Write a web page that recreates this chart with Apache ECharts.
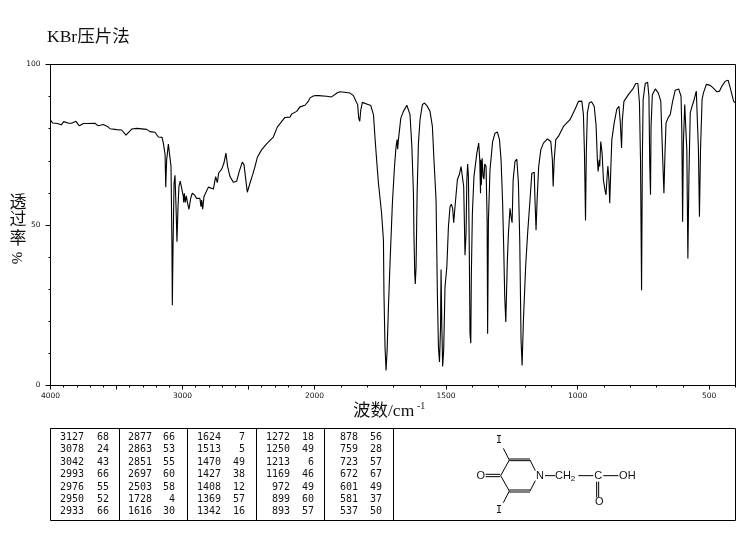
<!DOCTYPE html>
<html><head><meta charset="utf-8">
<style>html,body{margin:0;padding:0;background:#fff}#c{width:748px;height:539px}</style>
<script src="https://cdn.jsdelivr.net/npm/echarts@6/dist/echarts.min.js"></script>
</head><body><div id="c"></div>
<script>
// Spectrum above 2000 cm-1 (axis scale changes at 2000)
const wavenumberHigh = [3999,3984,3966,3948,3933,3918,3900,3885,3862,3840,3807,3782,3751,3721,3663,3638,3600,3569,3549,3499,3461,3428,3385,3347,3272,3246,3208,3183,3155,3145,3132,3127,3120,3107,3097,3087,3080,3077,3072,3064,3057,3049,3042,3034,3027,3017,3004,2994,2991,2986,2979,2971,2964,2951,2938,2926,2910,2893,2868,2860,2855,2847,2837,2822,2804,2766,2749,2736,2726,2703,2686,2671,2658,2640,2615,2590,2570,2547,2534,2519,2509,2499,2489,2469,2451,2433,2401,2363,2312,2282,2224,2186,2173,2135,2110,2072,2047,2034,2009,2000];
const transmittanceHigh = [82.6,81.8,81.7,81.6,81.7,81.2,82.2,82.5,81.7,81.7,82.3,80.9,81.6,81.6,81.7,80.9,81.3,80.7,80.0,79.7,79.6,78.0,79.9,80.1,79.8,79.1,78.9,77.4,77.3,75.5,71.9,61.8,70.3,75.2,75.2,68.2,43.2,25.0,42.2,63.0,65.5,55.7,44.8,55.7,62.0,63.7,63.5,58.9,57.0,59.9,57.0,59.1,57.3,54.9,58.3,59.9,59.4,58.3,58.3,55.7,57.8,54.9,58.9,59.4,61.8,61.2,65.1,63.2,66.2,67.4,69.3,72.4,68.2,65.1,63.3,63.6,66.7,69.6,68.8,63.6,60.2,60.4,63.0,65.6,68.2,71.1,73.4,75.3,77.4,80.5,83.5,83.6,84.6,85.4,86.8,87.3,88.5,89.6,90.2,90.3];
// Spectrum below 2000 cm-1
const wavenumberLow = [2000,1985,1954,1935,1913,1903,1865,1852,1842,1836,1832,1828,1824,1818,1802,1786,1776,1770,1763,1757,1751,1745,1738,1736,1732,1728,1724,1719,1713,1704,1696,1690,1686,1684,1681,1672,1662,1649,1642,1637,1630,1624,1622,1619,1617,1614,1610,1605,1599,1590,1582,1573,1561,1552,1546,1538,1533,1529,1525,1521,1519,1516,1513,1509,1504,1497,1491,1485,1480,1475,1471,1466,1457,1449,1443,1438,1433,1428,1424,1421,1418,1415,1412,1409,1406,1404,1400,1394,1383,1376,1372,1369,1368,1366,1363,1359,1356,1353,1348,1344,1342,1339,1333,1323,1314,1305,1297,1291,1285,1281,1277,1273,1271,1267,1263,1257,1253,1249,1245,1238,1231,1225,1220,1215,1211,1206,1197,1190,1181,1174,1165,1162,1158,1154,1148,1140,1130,1115,1102,1096,1093,1089,1083,1073,1054,1029,1009,997,984,978,974,970,967,963,956,947,937,930,925,922,918,916,912,907,902,895,892,888,885,881,878,874,870,861,851,843,838,833,830,824,807,790,779,771,765,761,757,754,751,743,734,729,726,723,721,716,705,693,684,677,672,668,664,655,648,639,629,616,607,604,601,598,593,587,585,581,577,572,565,557,549,544,541,537,533,527,522,511,496,481,471,461,452,439,428,420,407,400];
const transmittanceLow = [90.3,90.3,90.1,89.9,91.2,91.5,91.1,90.3,88.5,87.5,83.3,82.3,85.9,88.2,87.7,87.2,84.4,77.1,69.3,63.0,62.5,53.6,45.3,28.6,12.0,4.7,11.0,24.5,38.0,56.8,68.2,74.5,76.6,73.6,76.6,83.3,85.4,87.3,87.3,84.4,74.5,59.9,46.4,34.9,31.6,37.0,59.9,75.5,82.8,87.5,88.0,87.2,85.4,80.7,70.3,57.8,28.6,12.0,7.3,18.2,36.1,18.2,5.9,11.0,30.7,37.0,49.5,55.7,56.5,55.2,50.7,55.7,64.1,65.9,68.2,68.2,62.0,40.6,47.4,64.1,69.0,65.0,44.8,16.1,13.2,33.9,53.6,65.0,72.4,75.5,70.3,59.9,70.3,62.5,70.8,65.0,64.3,69.0,68.2,51.6,16.1,51.6,67.2,76.0,78.6,79.0,76.6,70.3,56.8,43.2,27.6,19.8,19.8,39.0,47.4,55.2,52.6,50.7,64.1,69.8,70.5,63.0,45.3,14.1,6.2,20.3,38.0,47.4,57.8,66.1,66.4,57.8,48.4,57.8,68.2,73.4,75.5,76.8,76.0,70.3,62.0,70.3,76.6,77.6,80.7,82.8,86.2,88.5,88.6,84.4,72.4,51.4,72.4,84.9,88.0,88.4,87.0,81.2,70.3,66.7,70.3,68.2,76.0,72.4,64.1,60.4,59.4,65.1,68.4,64.1,56.8,67.2,76.6,81.8,86.1,87.0,82.3,74.0,82.8,88.5,90.6,92.4,94.1,94.1,88.0,70.3,29.7,70.3,89.1,94.1,94.5,90.1,69.3,59.4,80.7,90.6,92.4,91.1,88.5,71.3,59.9,72.4,81.8,83.6,84.4,88.5,92.0,92.4,90.1,79.7,51.0,75.5,87.5,87.5,73.4,39.6,65.1,84.9,87.0,89.1,91.7,91.7,74.0,52.6,73.4,89.1,91.1,93.8,93.5,92.4,91.5,91.7,93.2,94.8,95.1,92.7,88.5,88.0];

const yMajor = [0,50,100];
const xMajorHigh = [4000,3500,3000,2500];
const xMajorLow = [2000,1500,1000,500];
const xLabelsHigh = [4000,3000];
const xLabelsLow = [2000,1500,1000,500];

// Peak table, one list per column
const peakWave = [
  ['3127','3078','3042','2993','2976','2950','2933'],
  ['2877','2863','2851','2697','2503','1728','1616'],
  ['1624','1513','1470','1427','1408','1369','1342'],
  ['1272','1250','1213','1169','972','899','893'],
  ['878','759','723','672','601','581','537']];
const peakT = [
  ['68','24','43','66','55','52','66'],
  ['66','53','55','60','58','4','30'],
  ['7','5','49','38','12','57','16'],
  ['18','49','6','46','49','60','57'],
  ['56','28','57','67','49','37','50']];

const title = 'KBr压片法';
const xName = '波数/cm';
const yNameChars = ['透','过','率'];

const pick = (w, t) => w.map((v, i) => [v, t[i]]);
const L = 50.5, T = 64.5, B = 385.5, R = 735.5, MID = 314.5;
const black = '#000';
const G = [];
const ln = (x1,y1,x2,y2,w) => G.push({type:'line',silent:true,shape:{x1,y1,x2,y2},style:{stroke:black,lineWidth:w||1}});
const tx = (x,y,text,font,align,extra) => G.push(Object.assign({type:'text',silent:true,x,y,style:{text,font,fill:'#111',align:align||'left',verticalAlign:'middle'}},extra||{}));

// plot frame
ln(L,T,R,T); ln(R,T,R,B);

// texts around the plot
const serif = '"Liberation Serif","Noto Sans CJK SC"';
tx(47,37,title,'17.5px '+serif);
tx(353,411.5,xName,'17.5px '+serif);
tx(417,406.5,'-1','10px '+serif);
const ys=[203.5,221,239.5];
yNameChars.forEach((c,i)=>tx(18,ys[i],c,'17px '+serif,'center'));
tx(18,258,'%','15px '+serif,'center',{rotation:Math.PI/2});

// table
const tTop=428.5,tBot=520.5,cols=[50.5,119.5,187.5,256.5,324.5,393.5,735.5];
ln(L,tTop,R,tTop); ln(L,tBot,R,tBot);
cols.forEach(x=>ln(x,tTop,x,tBot));
const waveRight=[84,152,221,290,358], tRight=[109,175,245,314,382];
const mono='10px "DejaVu Sans Mono"';
peakWave.forEach((col,c)=>col.forEach((v,r)=>{
  const y=437.5+r*12.37;
  tx(waveRight[c],y,v,mono,'right');
  tx(tRight[c],y,peakT[c][r],mono,'right');
}));

// structure drawing (px = 390 + cx/3, py = 420 + cy/3 from the reference)
const sx=c=>390+c/3, sy=c=>420+c/3;
const sl=(a,b,c,d)=>ln(sx(a),sy(b),sx(c),sy(d));
const bonds=[[287,163,330,163],[287,170,330,170],[332,167,358,120],[358,117,420,117],[358,122,420,122],[420,120,436,152],[436,182,420,213],[420,210,358,210],[420,216,358,216],[358,213,332,167],[340,85,358,120],[340,248,358,213],[465,167,495,167],[565,167,610,167],[640,167,685,167],[620,185,620,232],[626,185,626,232]];
bonds.forEach(b=>sl(...b));
const atom='11px "Liberation Sans"';
[[272,168,'O'],[450,168,'N'],[625,168,'C'],[712,168,'OH'],[628,245,'O'],[528,168,'CH']].forEach(a=>tx(sx(a[0])-(a[2]==='CH'?3:0),sy(a[1]),a[2],atom,'center'));
tx(sx(549),sy(176),'2','8px "Liberation Sans"','center');
tx(sx(327),sy(62),'I','10px "DejaVu Sans Mono"','center');
tx(sx(327),sy(270),'I','10px "DejaVu Sans Mono"','center');

const plain=v=>String(v);
const lab={show:true,fontFamily:'"DejaVu Sans"',fontSize:7.5,color:'#111',margin:7,formatter:plain};
const axLine={show:true,lineStyle:{color:black,width:1}};
const xBase=(gi,min,max)=>({type:'value',gridIndex:gi,min,max,inverse:true,position:'bottom',splitLine:{show:false},axisLine:axLine});

const option={
  animation:false,
  backgroundColor:'#fff',
  grid:[
    {left:L,top:T,width:MID-L,height:B-T},
    {left:MID,top:T,width:R-MID,height:B-T}
  ],
  xAxis:[
    Object.assign(xBase(0,2000,4000),{interval:100,axisTick:{show:true,length:2,lineStyle:{color:black}},axisLabel:{show:false}}),
    Object.assign(xBase(0,2000,4000),{interval:500,axisTick:{show:true,length:4,customValues:xMajorHigh,lineStyle:{color:black}},axisLabel:Object.assign({customValues:xLabelsHigh},lab)}),
    Object.assign(xBase(1,400,2000),{interval:100,axisTick:{show:true,length:2,lineStyle:{color:black}},axisLabel:{show:false}}),
    Object.assign(xBase(1,400,2000),{interval:100,axisTick:{show:true,length:4,customValues:xMajorLow,lineStyle:{color:black}},axisLabel:Object.assign({customValues:xLabelsLow},lab)})
  ],
  yAxis:[
    {type:'value',gridIndex:0,position:'left',min:0,max:100,interval:10,splitLine:{show:false},axisLine:axLine,
     axisTick:{show:true,length:2,lineStyle:{color:black}},axisLabel:{show:false}},
    {type:'value',gridIndex:0,position:'left',min:0,max:100,interval:50,splitLine:{show:false},axisLine:axLine,
     axisTick:{show:true,length:5,customValues:yMajor,lineStyle:{color:black}},axisLabel:Object.assign({customValues:yMajor},lab,{margin:10})},
    {type:'value',gridIndex:1,min:0,max:100,show:false}
  ],
  series:[
    {type:'line',xAxisIndex:0,yAxisIndex:0,data:pick(wavenumberHigh,transmittanceHigh),showSymbol:false,smooth:false,lineStyle:{color:black,width:1.1}},
    {type:'line',xAxisIndex:2,yAxisIndex:2,data:pick(wavenumberLow,transmittanceLow),showSymbol:false,smooth:false,lineStyle:{color:black,width:1.1}}
  ],
  graphic:{elements:G}
};
echarts.init(document.getElementById('c'),null,{renderer:'canvas'}).setOption(option);
</script></body></html>
